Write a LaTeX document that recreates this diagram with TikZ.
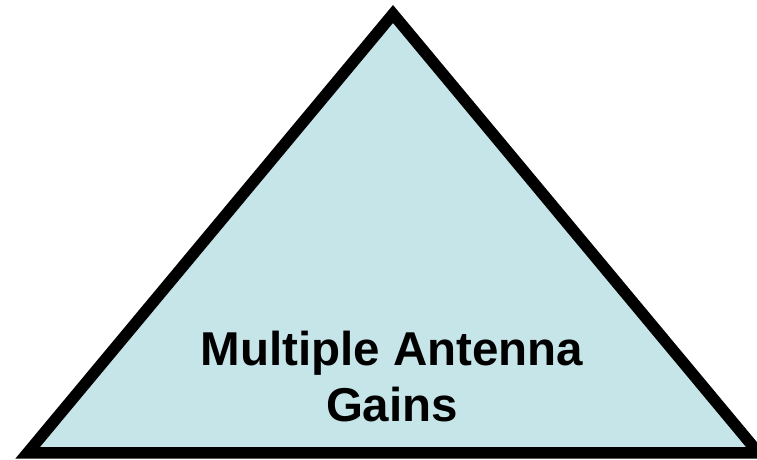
\documentclass[tikz,border=0pt]{standalone}
\usepackage{fontspec}
\setmainfont{Liberation Sans}
\definecolor{trifill}{RGB}{198,229,233}
\tikzset{
  tri/.style={draw=black, fill=trifill, line width=11.5pt, line join=miter},
  lbl/.style={font=\fontsize{47.5}{56}\selectfont\bfseries, anchor=base, inner sep=0pt}
}
\begin{document}
\begin{tikzpicture}[x=1pt,y=1pt]
\useasboundingbox (0,0) rectangle (757,459);
\coordinate (bl) at (27.7,6.25);
\coordinate (top) at (393,445);
\coordinate (br) at (758.3,6.25);
\draw[tri] (bl) -- (top) -- (br) -- cycle;
\node[lbl] (line1) at (392,94) {Multiple Antenna};
\node[lbl] (line2) at (392,38) {Gains};
\end{tikzpicture}
\end{document}
